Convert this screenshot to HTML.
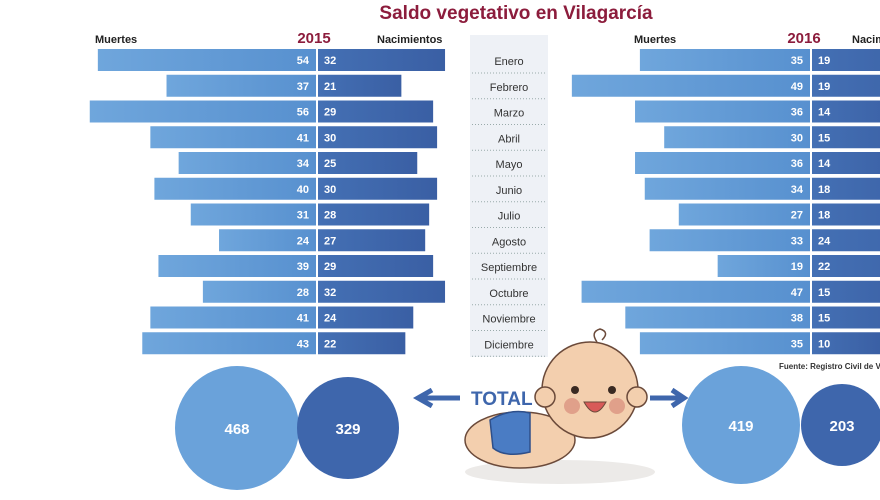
<!DOCTYPE html>
<html><head><meta charset="utf-8"><style>
body{margin:0;width:880px;height:495px;overflow:hidden;background:#fff;font-family:"Liberation Sans",sans-serif;}
</style></head><body>
<svg width="880" height="495" viewBox="0 0 880 495" xmlns="http://www.w3.org/2000/svg" font-family="Liberation Sans, sans-serif">
<defs>
<linearGradient id="lb" x1="0" x2="1"><stop offset="0" stop-color="#6fa6dc"/><stop offset="1" stop-color="#5790cf"/></linearGradient>
<linearGradient id="db" x1="0" x2="1"><stop offset="0" stop-color="#4470b4"/><stop offset="1" stop-color="#3a5fa4"/></linearGradient>
</defs>
<text x="516" y="19" text-anchor="middle" font-size="19" font-weight="bold" fill="#8c1c3c">Saldo vegetativo en Vilagarcía</text>
<text x="95" y="43" font-size="11" font-weight="bold" fill="#222">Muertes</text>
<text x="314" y="43" text-anchor="middle" font-size="15" font-weight="bold" fill="#8c1c3c">2015</text>
<text x="377" y="43" font-size="11" font-weight="bold" fill="#222">Nacimientos</text>
<text x="634" y="43" font-size="11" font-weight="bold" fill="#222">Muertes</text>
<text x="804" y="43" text-anchor="middle" font-size="15" font-weight="bold" fill="#8c1c3c">2016</text>
<text x="852" y="43" font-size="11" font-weight="bold" fill="#222">Nacimientos</text>
<rect x="470" y="35" width="78" height="322" fill="#eef1f6"/>
<g id="rows"></g>
<text x="779" y="369" font-size="8" font-weight="bold" fill="#333">Fuente: Registro Civil de Vilagarcía</text>
<circle cx="237" cy="428" r="62" fill="#6aa2da"/>
<circle cx="348" cy="428" r="51" fill="#3e66ac"/>
<text x="237" y="434" text-anchor="middle" font-size="15" font-weight="bold" fill="#fff">468</text>
<text x="348" y="434" text-anchor="middle" font-size="15" font-weight="bold" fill="#fff">329</text>
<circle cx="741" cy="425" r="59" fill="#6aa2da"/>
<circle cx="842" cy="425" r="41" fill="#3e66ac"/>
<text x="741" y="431" text-anchor="middle" font-size="15" font-weight="bold" fill="#fff">419</text>
<text x="842" y="431" text-anchor="middle" font-size="15" font-weight="bold" fill="#fff">203</text>
<path d="M460 398 H422 M432 390 L418 398 L432 406" stroke="#3e66ac" stroke-width="5" fill="none"/>
<text x="471" y="405" font-size="19" font-weight="bold" fill="#3e66ac">TOTAL</text>
<path d="M650 398 H680 M672 390 L684 398 L672 406" stroke="#3e66ac" stroke-width="5" fill="none"/>
<ellipse cx="560" cy="472" rx="95" ry="12" fill="#eceae8"/>
<ellipse cx="520" cy="440" rx="55" ry="28" fill="#f3cfae" stroke="#6b4a3a" stroke-width="1.5"/>
<path d="M490 420 Q510 408 530 413 L530 452 Q505 458 493 448 Z" fill="#4a7cc4" stroke="#2e4f8a" stroke-width="1.5"/>
<circle cx="590" cy="390" r="48" fill="#f3cfae" stroke="#6b4a3a" stroke-width="1.5"/>
<circle cx="545" cy="397" r="10" fill="#f3cfae" stroke="#6b4a3a" stroke-width="1.5"/>
<circle cx="637" cy="397" r="10" fill="#f3cfae" stroke="#6b4a3a" stroke-width="1.5"/>
<circle cx="575" cy="390" r="4" fill="#3a2a22"/><circle cx="612" cy="390" r="4" fill="#3a2a22"/>
<circle cx="572" cy="406" r="8" fill="#e0a08a"/><circle cx="617" cy="406" r="8" fill="#e0a08a"/>
<path d="M584 402 Q595 422 606 402 Z" fill="#d85a58" stroke="#6b4a3a"/>
<path d="M597 342 Q590 332 600 329 Q610 332 602 340" stroke="#6b4a3a" fill="none" stroke-width="1.5"/>
</svg>
<script>
const m=["Enero","Febrero","Marzo","Abril","Mayo","Junio","Julio","Agosto","Septiembre","Octubre","Noviembre","Diciembre"];
const a=[[54,32],[37,21],[56,29],[41,30],[34,25],[40,30],[31,28],[24,27],[39,29],[28,32],[41,24],[43,22]];
const b=[[35,19],[49,19],[36,14],[30,15],[36,14],[34,18],[27,18],[33,24],[19,22],[47,15],[38,15],[35,10]];
let s="";
for(let i=0;i<12;i++){const y=49+i*25.75,h=22,c=y+h/2+4;
s+=`<rect x="${316-a[i][0]*4.04}" y="${y}" width="${a[i][0]*4.04}" height="${h}" fill="url(#lb)"/>`;
s+=`<rect x="318" y="${y}" width="${a[i][1]*3.97}" height="${h}" fill="url(#db)"/>`;
s+=`<text x="309" y="${c}" text-anchor="end" font-size="11" font-weight="bold" fill="#fff">${a[i][0]}</text>`;
s+=`<text x="324" y="${c}" font-size="11" font-weight="bold" fill="#fff">${a[i][1]}</text>`;
s+=`<rect x="${810-b[i][0]*4.86}" y="${y}" width="${b[i][0]*4.86}" height="${h}" fill="url(#lb)"/>`;
s+=`<rect x="812" y="${y}" width="${b[i][1]*7}" height="${h}" fill="url(#db)"/>`;
s+=`<text x="803" y="${c}" text-anchor="end" font-size="11" font-weight="bold" fill="#fff">${b[i][0]}</text>`;
s+=`<text x="818" y="${c}" font-size="11" font-weight="bold" fill="#fff">${b[i][1]}</text>`;
s+=`<text x="509" y="${c+1}" text-anchor="middle" font-size="11" fill="#333">${m[i]}</text>`;
s+=`<line x1="472" x2="546" y1="${y+24}" y2="${y+24}" stroke="#9aa" stroke-dasharray="1,2"/>`;}
document.getElementById("rows").innerHTML=s;
</script>
</body></html>
